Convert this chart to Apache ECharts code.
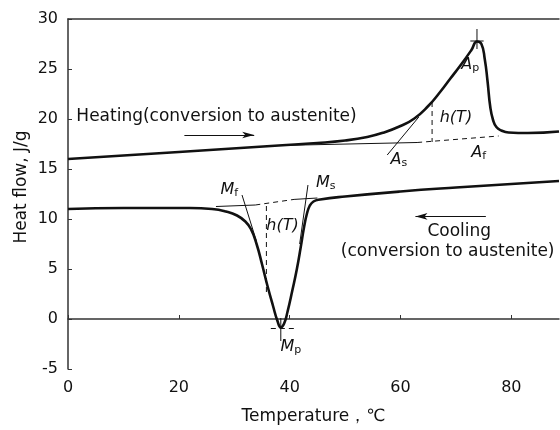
<!DOCTYPE html>
<html>
<head>
<meta charset="utf-8">
<script src="https://cdn.jsdelivr.net/npm/echarts@6/dist/echarts.min.js"></script>
<style>
  html, body { margin: 0; padding: 0; background: #fff; }
  #chart { width: 560px; height: 430px; }
</style>
</head>
<body>
<div id="chart"></div>
<script>
// 数据：温度 / 热流
var xTicks = [0, 20, 40, 60, 80];
var yTicks = [-5, 0, 5, 10, 15, 20, 25, 30];

// heating curve (upper)
var heating = [[0,16.0],[20,16.7],[38,17.35],[45,17.6],[50,17.85],[54,18.2],[57,18.65],[60,19.3],
  [62.5,20.05],[65,21.3],[67,22.6],[69,24.05],[71,25.5],[72.8,26.9],[73.8,27.75],[74.6,27.5],[75.2,26.0],
  [75.7,23.8],[76.2,21.2],[76.7,19.9],[77.3,19.2],[78.2,18.85],[79.5,18.65],[83,18.6],[88.6,18.75]];

// cooling curve (lower)
var cooling = [[0,11.0],[10,11.1],[22,11.1],[26,11.0],[28.5,10.75],[30.5,10.35],[32,9.75],[33,9.0],
  [34,7.55],[35,5.5],[36,3.3],[37,1.3],[37.8,-0.2],[38.4,-0.85],[39,-0.45],[39.6,0.7],[40.5,2.9],
  [41.3,5.0],[42,7.2],[42.6,9.2],[43.1,10.5],[43.6,11.3],[44.3,11.75],[45.5,11.95],[50,12.25],
  [60,12.75],[70,13.15],[80,13.5],[88.6,13.8]];

// construction lines (thin solid)
var heatBase = [[38,17.35],[63,17.65]];
var heatTangent = [[57.6,16.4],[63.3,20.2]];
var coolBaseL = [[26.7,11.25],[33.8,11.4]];
var coolBaseR = [[40.8,11.96],[45,12.1]];
var mfTangent = [[31.4,12.4],[34.0,7.8]];
var msTangent = [[43.3,13.4],[41.8,7.5]];
var apTick = [[73.8,29.0],[73.8,27.0]];
var apTickH = [[72.6,27.8],[75.0,27.8]];
var mpTick = [[38.4,0.1],[38.4,-2.2]];

// construction lines (dashed)
var heatBaseDash = [[63,17.65],[77.7,18.3]];
var heatH = [[65.7,21.7],[65.7,17.7]];
var coolBaseDash = [[33.8,11.4],[40.8,11.96]];
var coolH = [[35.8,11.3],[35.8,2.6]];
var mpDash = [[36.6,-0.95],[41.1,-0.95]];

// labels [x, y, text]
var labels = [
  [72.6, 25.4, '{v|A}{s|p}'],
  [70.0, 20.1, '{v|h(T)}'],
  [59.7, 15.9, '{v|A}{s|s}'],
  [74.1, 16.6, '{v|A}{s|f}'],
  [29.1, 12.95, '{v|M}{s|f}'],
  [46.5, 13.6, '{v|M}{s|s}'],
  [38.7, 9.3, '{v|h(T)}'],
  [40.2, -2.8, '{v|M}{s|p}'],
  [26.8, 20.2, '{t|Heating(conversion to austenite)}'],
  [70.6, 8.7, '{t|Cooling}'],
  [68.5, 6.7, '{t|(conversion to austenite)}']
];

// arrows [from, to]
var arrows = [
  [[21, 18.4], [33.6, 18.4]],
  [[75.4, 10.26], [62.7, 10.26]]
];

var font = 'DejaVu Sans';
var ink = '#111';

function thin(data, dashed) {
  return {
    type: 'line', data: data, symbol: 'none', silent: true,
    lineStyle: { color: ink, width: 1, type: dashed ? [5, 4] : 'solid' }
  };
}

var chart = echarts.init(document.getElementById('chart'));

var series = [
  { type: 'line', data: heating, symbol: 'none', smooth: 0.5,
    lineStyle: { color: ink, width: 2.6, join: 'round' } },
  { type: 'line', data: cooling, symbol: 'none', smooth: 0.5,
    lineStyle: { color: ink, width: 2.6, join: 'round' } }
];
[heatBase, heatTangent, coolBaseL, coolBaseR, mfTangent, msTangent, apTick, apTickH, mpTick].forEach(function (d) {
  series.push(thin(d, false));
});
[heatBaseDash, heatH, coolBaseDash, coolH, mpDash].forEach(function (d) {
  series.push(thin(d, true));
});

// 文字标注
series.push({
  type: 'scatter', symbolSize: 1, silent: true,
  itemStyle: { color: 'transparent' },
  data: labels.map(function (l) { return { value: [l[0], l[1]], text: l[2] }; }),
  label: {
    show: true, position: 'inside', color: ink, textBorderWidth: 0, opacity: 1,
    formatter: function (p) { return p.data.text; },
    rich: {
      v: { fontFamily: font, fontSize: 16, fontStyle: 'italic', color: ink, textBorderWidth: 0 },
      s: { fontFamily: font, fontSize: 11, color: ink, padding: [7, 0, 0, 0], textBorderWidth: 0 },
      t: { fontFamily: font, fontSize: 17, color: ink, textBorderWidth: 0 }
    }
  }
});

// 箭头
series.push({
  type: 'line', data: [], silent: true,
  markLine: {
    silent: true, symbol: ['none', 'arrow'], symbolSize: [5, 12],
    label: { show: false },
    lineStyle: { color: ink, width: 1, type: 'solid' },
    data: arrows.map(function (a) { return [{ coord: a[0] }, { coord: a[1] }]; })
  }
});

chart.setOption({
  animation: false,
  grid: { left: 68, right: 1, top: 19, bottom: 56 },
  xAxis: [{
    type: 'value', min: 0, max: 88.6, interval: 20,
    name: 'Temperature，℃', nameLocation: 'middle', nameGap: 39,
    nameTextStyle: { fontFamily: font, fontSize: 17, color: ink },
    axisLine: { lineStyle: { color: '#333', width: 1.5 } },
    axisTick: { inside: true, length: 4, lineStyle: { color: '#333' } },
    axisLabel: { fontFamily: font, fontSize: 16, color: ink, margin: 11, showMaxLabel: false,
      formatter: function (v) { return xTicks.indexOf(v) >= 0 ? String(v) : ''; } },
    splitLine: { show: false }
  }, {
    type: 'value', position: 'top', min: 0, max: 88.6,
    axisLine: { show: true, lineStyle: { color: '#333', width: 1.5 } },
    axisTick: { show: false }, axisLabel: { show: false }, splitLine: { show: false }
  }],
  yAxis: {
    type: 'value', min: -5, max: 30, interval: 5,
    axisLine: { show: true, lineStyle: { color: '#333', width: 1.5 } },
    axisTick: { inside: true, length: 4, lineStyle: { color: '#333' } },
    axisLabel: { fontFamily: font, fontSize: 16, color: ink, margin: 10,
      formatter: function (v) { return yTicks.indexOf(v) >= 0 ? String(v) : ''; } },
    splitLine: { show: false }
  },
  graphic: [{
    type: 'text', x: 22, y: 187, rotation: Math.PI / 2,
    style: { text: 'Heat flow, J/g', fontFamily: font, fontSize: 17, fill: ink,
      align: 'center', verticalAlign: 'middle' }
  }],
  series: series
});
</script>
</body>
</html>
